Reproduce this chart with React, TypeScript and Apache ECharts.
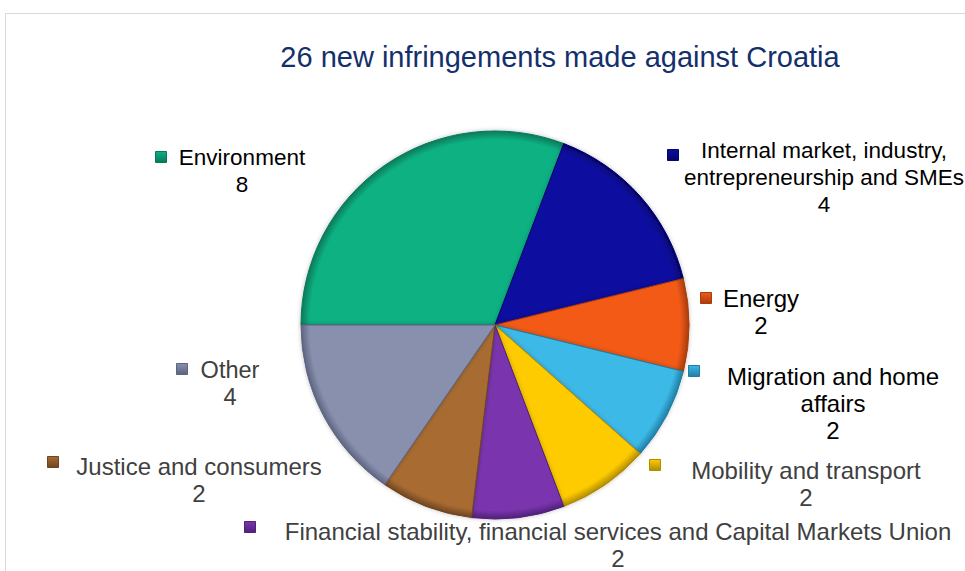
import React, { useEffect, useRef } from "react";
import * as echarts from "echarts";

const TITLE = "26 new infringements made against Croatia";
const categories = [
  "Environment",
  "Internal market, industry, entrepreneurship and SMEs",
  "Energy",
  "Migration and home affairs",
  "Mobility and transport",
  "Financial stability, financial services and Capital Markets Union",
  "Justice and consumers",
  "Other",
];
const labelNames = [
  "Environment",
  "Internal market, industry,\nentrepreneurship and SMEs",
  "Energy",
  "Migration and home\naffairs",
  "Mobility and transport",
  "Financial stability, financial services and Capital Markets Union",
  "Justice and consumers",
  "Other",
];
const values = [8, 4, 2, 2, 2, 2, 2, 4];
const colors = ["#0db182", "#0b0ba0", "#f35a18", "#3cb9e8", "#fecb02", "#7a36ae", "#a86c33", "#8990ae"];
const rims = ["#07795a", "#05056a", "#a83c0c", "#1f7ea4", "#b08c00", "#50207a", "#6f4520", "#5d6480"];
const labelColors = ["#000", "#000", "#000", "#000", "#404040", "#404040", "#404040", "#404040"];
const labelSizes = [22.5, 22.5, 24, 24, 24, 24, 24, 23.5];

// label block centres and marker centres (layout)
const labelPos = [
  [242, 171],
  [824, 177],
  [761, 312],
  [833, 403],
  [806, 484],
  [618, 545],
  [199, 480],
  [230, 383],
];
const markerPos = [
  [161, 157],
  [673, 155],
  [706, 298],
  [694, 371],
  [655, 465],
  [250, 527],
  [53, 462],
  [182, 369],
];

const CX = 495;
const CY = 325;
const R = 194;

export default function App() {
  const ref = useRef<HTMLDivElement>(null);
  useEffect(() => {
    if (!ref.current) return;
    const chart = echarts.init(ref.current, undefined, { renderer: "svg" });
    const font = "'Liberation Sans', Arial, sans-serif";
    const data = categories.map((name, i) => ({
      name,
      value: values[i],
      itemStyle: {
        color: {
          type: "radial",
          x: CX,
          y: CY,
          r: R,
          global: true,
          colorStops: [
            { offset: 0, color: colors[i] },
            { offset: 0.955, color: colors[i] },
            { offset: 1, color: rims[i] },
          ],
        },
        borderColor: rims[i],
      },
      label: { color: labelColors[i], fontSize: labelSizes[i] },
    }));
    const markers = markerPos.map((p, i) => ({
      type: "rect",
      shape: { x: p[0] - 5.5, y: p[1] - 5.5, width: 11, height: 11 },
      style: {
        fill: {
          type: "linear",
          x: 0,
          y: 0,
          x2: 0,
          y2: 1,
          colorStops: [
            { offset: 0, color: colors[i] },
            { offset: 1, color: rims[i] },
          ],
        },
        stroke: rims[i],
        lineWidth: 1,
      },
    }));
    chart.setOption({
      animation: false,
      backgroundColor: "#fff",
      title: {
        text: TITLE,
        left: 555,
        top: 37,
        textAlign: "center",
        textStyle: { fontSize: 29, fontWeight: "normal", color: "#14306c", fontFamily: font },
      },
      graphic: [
        {
          type: "rect",
          shape: { x: 5.5, y: 13.5, width: 980, height: 580 },
          style: { fill: "none", stroke: "#d9d9d9", lineWidth: 1 },
          silent: true,
        },
        ...markers,
      ],
      series: [
        {
          type: "pie",
          center: [CX, CY],
          radius: R,
          startAngle: 180,
          clockwise: true,
          data,
          itemStyle: {
            borderWidth: 1,
            shadowBlur: 4,
            shadowColor: "rgba(0,0,0,0.25)",
          },
          label: {
            show: true,
            position: "outside",
            formatter: (p: any) => labelNames[p.dataIndex] + "\n" + p.value,
            fontSize: 22.5,
            lineHeight: 27,
            fontFamily: font,
            align: "center",
            overflow: "none",
          },
          labelLine: { show: false },
          labelLayout: (params: any) => {
            const p = labelPos[params.dataIndex];
            return { x: p[0], y: p[1], align: "center", verticalAlign: "middle" };
          },
          emphasis: { disabled: true },
        },
      ],
    });
    return () => chart.dispose();
  }, []);
  return (
    <div
      ref={ref}
      style={{ position: "fixed", left: 0, top: 0, width: 965, height: 571 }}
    />
  );
}
